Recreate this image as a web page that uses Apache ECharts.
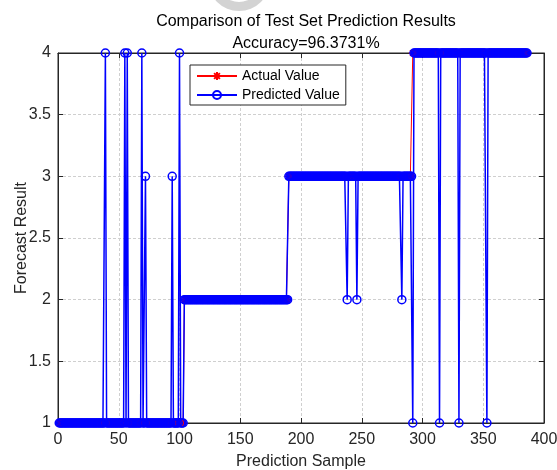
<!DOCTYPE html>
<html>
<head>
<meta charset="utf-8">
<script src="https://cdn.jsdelivr.net/npm/echarts@6/dist/echarts.min.js"></script>
<style>
html,body{margin:0;padding:0;background:#fff;}
#chart{width:557px;height:470px;}
</style>
</head>
<body>
<div id="chart"></div>
<script>
// Actual class runs: [class, number of samples]
var actualRuns = [[1, 103], [2, 86], [3, 102], [4, 95]];
// Misclassified samples: [sample index, predicted class]
var wrongPredictions = [
  [39, 4], [55, 4], [57, 4], [69, 4], [72, 3], [94, 3], [100, 4],
  [238, 2], [246, 2], [283, 2],
  [292, 1], [314, 1], [330, 1], [353, 1]
];
var xTicks = [0, 50, 100, 150, 200, 250, 300, 350, 400];
var yTicks = [1, 1.5, 2, 2.5, 3, 3.5, 4];
var titleText = 'Comparison of Test Set Prediction Results';
var subtitleText = 'Accuracy=96.3731%';

var actual = [];
actualRuns.forEach(function (r) { for (var k = 0; k < r[1]; k++) actual.push(r[0]); });
var predicted = actual.slice();
wrongPredictions.forEach(function (w) { predicted[w[0] - 1] = w[1]; });
var actualData = actual.map(function (v, i) { return [i + 1, v]; });
var predData = predicted.map(function (v, i) { return [i + 1, v]; });

var textColor = '#262626';
var font = "'Liberation Sans', Arial, sans-serif";
var gridLine = { show: true, lineStyle: { color: '#cfcfcf', type: [3, 2], width: 1 } };

var chart = echarts.init(document.getElementById('chart'), null, { renderer: 'canvas' });
var asterisk = 'path://M0,-5L0,5M-5,0L5,0M-3.6,-3.6L3.6,3.6M-3.6,3.6L3.6,-3.6';

chart.setOption({
  animation: false,
  backgroundColor: '#fff',
  title: [
    { text: titleText, left: 301, textAlign: 'center', top: 9,
      textStyle: { fontFamily: font, fontSize: 16, fontWeight: 'normal', color: '#000' } },
    { text: subtitleText, left: 301, textAlign: 'center', top: 31,
      textStyle: { fontFamily: font, fontSize: 16, fontWeight: 'normal', color: '#000' } }
  ],
  grid: { left: 58, right: 13, top: 53, bottom: 47, containLabel: false, outerBoundsMode: 'none',
    show: true, borderColor: textColor, borderWidth: 1, backgroundColor: '#fff' },
  legend: {
    orient: 'vertical', left: 190, top: 65, itemWidth: 40, itemHeight: 10, itemGap: 5,
    padding: [4, 6, 3, 6], borderColor: textColor, borderWidth: 1, backgroundColor: '#fff',
    textStyle: { fontFamily: font, fontSize: 14, color: '#000' },
    data: ['Actual Value', 'Predicted Value']
  },
  xAxis: [
    { type: 'value', min: 0, max: 400, interval: 50, position: 'bottom',
      name: 'Prediction Sample', nameLocation: 'middle', nameGap: 31, nameMoveOverlap: false,
      nameTextStyle: { fontFamily: font, fontSize: 16, color: textColor },
      axisLine: { show: true, onZero: false, lineStyle: { color: textColor } },
      axisTick: { show: true, inside: true, length: 5, lineStyle: { color: textColor } },
      axisLabel: { fontFamily: font, fontSize: 16, color: textColor, margin: 9,
        customValues: xTicks },
      splitLine: gridLine },
    { type: 'value', min: 0, max: 400, interval: 50, position: 'top',
      axisLine: { show: true, onZero: false, lineStyle: { color: textColor } },
      axisTick: { show: true, inside: true, length: 5, lineStyle: { color: textColor } },
      axisLabel: { show: false }, splitLine: { show: false } }
  ],
  yAxis: [
    { type: 'value', min: 1, max: 4, interval: 0.5, position: 'left',
      name: 'Forecast Result', nameLocation: 'middle', nameGap: 28, nameRotate: 90, nameMoveOverlap: false,
      nameTextStyle: { fontFamily: font, fontSize: 16, color: textColor },
      axisLine: { show: true, onZero: false, lineStyle: { color: textColor } },
      axisTick: { show: true, inside: true, length: 5, lineStyle: { color: textColor } },
      axisLabel: { fontFamily: font, fontSize: 16, color: textColor, margin: 7,
        customValues: yTicks },
      splitLine: gridLine },
    { type: 'value', min: 1, max: 4, interval: 0.5, position: 'right',
      axisLine: { show: true, onZero: false, lineStyle: { color: textColor } },
      axisTick: { show: true, inside: true, length: 5, lineStyle: { color: textColor } },
      axisLabel: { show: false }, splitLine: { show: false } }
  ],
  series: [
    { name: 'Actual Value', type: 'line', data: actualData, xAxisIndex: 0, yAxisIndex: 0,
      symbol: asterisk, symbolSize: 8, showAllSymbol: true,
      lineStyle: { color: '#ff0000', width: 1 },
      itemStyle: { color: '#ff0000', borderColor: '#ff0000', borderWidth: 1.2 } },
    { name: 'Predicted Value', type: 'line', data: predData, xAxisIndex: 0, yAxisIndex: 0,
      symbol: 'circle', symbolSize: 8, showAllSymbol: true,
      lineStyle: { color: '#0000ff', width: 1.5 },
      itemStyle: { color: 'rgba(255,255,255,0)', borderColor: '#0000ff', borderWidth: 1.5 } }
  ],
  graphic: [
    { type: 'ring', shape: { cx: 239, cy: -20, r: 31, r0: 22 }, style: { fill: '#d3d3d3' }, z: -1 }
  ]
});
</script>
</body>
</html>
